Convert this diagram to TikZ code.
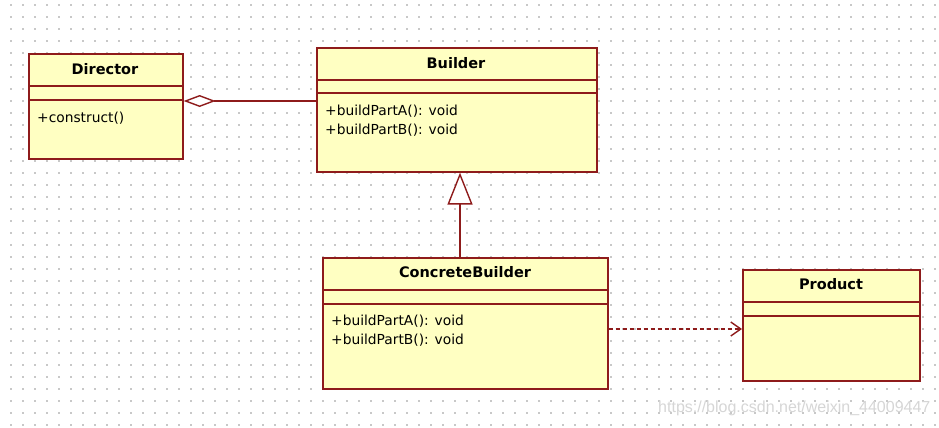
\documentclass[tikz,border=0pt]{standalone}
\usepackage{fontspec}
\setmainfont{DejaVu Sans}
\newfontfamily\wmfont{Liberation Sans}
\usetikzlibrary{arrows.meta}
\definecolor{umlborder}{HTML}{8E1B1B}
\definecolor{umlfill}{HTML}{FFFFC2}
\definecolor{griddot}{HTML}{C8C8C8}
\definecolor{wmgray}{HTML}{D6D6D6}
\begin{document}
\begin{tikzpicture}[x=1pt,y=-1pt,
  classbox/.style={draw=umlborder, fill=umlfill, line width=1.6pt, rectangle, inner sep=0pt, anchor=north west},
  sepline/.style={draw=umlborder, line width=1.6pt},
  titletext/.style={font=\fontsize{14.5}{17}\selectfont\bfseries, inner sep=0pt},
  membertext/.style={font=\fontsize{13.8}{19}\selectfont, inner sep=0pt, anchor=base west},
  conn/.style={draw=umlborder, line width=1.4pt},
  wmtext/.style={font=\wmfont\fontsize{16}{18}\selectfont, text=wmgray, inner sep=0pt}
]
\useasboundingbox (0,0) rectangle (939,428);
\fill[white] (0,0) rectangle (939,428);
\foreach \gx in {11,23,...,935} {
  \foreach \gy in {5,17,...,425} {
    \fill[griddot] (\gx-0.7,\gy-0.7) rectangle (\gx+0.7,\gy+0.7);
  }
}
% Director
\node[classbox, minimum width=154pt, minimum height=105pt] (dir) at (28,53) {};
\draw[sepline] (28,86) -- (182,86);
\draw[sepline] (28,100) -- (182,100);
\node[titletext] (dirt) at (105,69) {Director};
\node[membertext] (dirm) at (37,122) {+construct()};
% Builder
\node[classbox, minimum width=280pt, minimum height=124pt] (bld) at (316,47) {};
\draw[sepline] (316,80) -- (596,80);
\draw[sepline] (316,93) -- (596,93);
\node[titletext] (bldt) at (456,63) {Builder};
\node[membertext] (bldma) at (325,115) {+buildPartA(): void};
\node[membertext] (bldmb) at (325,134) {+buildPartB(): void};
% ConcreteBuilder
\node[classbox, minimum width=285pt, minimum height=131pt] (cb) at (322,257) {};
\draw[sepline] (322,290) -- (607,290);
\draw[sepline] (322,304) -- (607,304);
\node[titletext] (cbt) at (465,272) {ConcreteBuilder};
\node[membertext] (cbma) at (331,325) {+buildPartA(): void};
\node[membertext] (cbmb) at (331,344) {+buildPartB(): void};
% Product
\node[classbox, minimum width=177pt, minimum height=111pt] (prod) at (742,269) {};
\draw[sepline] (742,302) -- (919,302);
\draw[sepline] (742,316) -- (919,316);
\node[titletext] (prodt) at (831,284) {Product};
% Aggregation
\draw[conn, -{Diamond[open, length=32pt, width=12pt, line width=1.4pt, fill=white]}] (bld.west |- 0,101) -- (dir.east |- 0,101);
% Generalization
\draw[conn, -{Triangle[open, length=32pt, width=25pt, line width=1.4pt, fill=white]}] (cb.north -| 460,0) -- (bld.south -| 460,0);
% Dependency
\draw[conn, dash pattern=on 4pt off 3pt, -{Straight Barb[length=10pt, width=14pt, line width=1.4pt]}] (cb.east |- 0,329) -- (prod.west |- 0,329);
% Watermark
\node[wmtext, anchor=west] (wm) at (658,408) {https://blog.csdn.net/weixin\_44009447};
\end{tikzpicture}
\end{document}
